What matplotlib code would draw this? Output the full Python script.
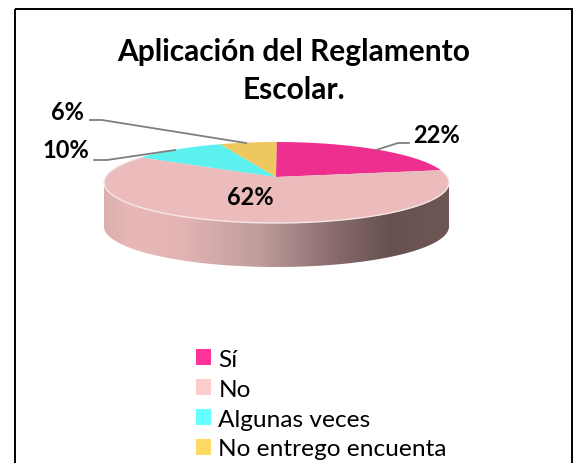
#!/usr/bin/env python
"""Aplicacion del Reglamento Escolar: fake 3D pie, drawn in pixel coordinates."""
import numpy as np

import matplotlib
matplotlib.use("Agg")
import matplotlib.pyplot as plt  # noqa: E402
from matplotlib.colors import LinearSegmentedColormap  # noqa: E402
from matplotlib.patches import Patch, Polygon, Rectangle  # noqa: E402

TITLE = "Aplicación del Reglamento\nEscolar."
CATEGORIES = ["Sí", "No", "Algunas veces", "No entrego encuenta"]
VALUES = [22, 62, 10, 6]
TOP_COLORS = ["#ee2f8f", "#ecbcbc", "#5cf0ee", "#eec85e"]
LEGEND_COLORS = ["#ff3399", "#ffcccc", "#66ffff", "#ffd966"]

# pie geometry, in pixels
CX, CY, RX, RY = 276.5, 183.5, 172.5, 40.5
APEX = (276, 178)
DEPTH = 44

plt.rcParams["font.family"] = ["Lato", "DejaVu Sans"]


def rim(theta):
    """Rim point for angle theta (radians clockwise from top), with perspective warp."""
    phi = theta - np.radians(7) * np.sin(theta)
    return CX + RX * np.sin(phi), CY - RY * np.cos(phi)


fig = plt.figure(figsize=(5.73, 4.64), dpi=100)
ax = fig.add_axes([0, 0, 1, 1])
ax.set_xlim(0, 573)
ax.set_ylim(464, 0)
ax.axis("off")

# chart frame
ax.add_patch(Rectangle((15, 10), 557, 470, fill=False, ec="black", lw=1.4, clip_on=False))

# side wall with horizontal gradient
t = np.linspace(np.pi / 2, 3 * np.pi / 2, 200)
x_low = CX + RX * np.sin(t)
y_low = CY - RY * np.cos(t)
side_pts = np.vstack([np.c_[x_low, y_low], np.c_[x_low[::-1], y_low[::-1] + DEPTH]])
side = Polygon(side_pts, closed=True, fc="none", ec="none")
ax.add_patch(side)
side_cmap = LinearSegmentedColormap.from_list(
    "side",
    [(0.0, "#dcaeae"), (0.08, "#e8b8b8"), (0.22, "#e4b4b4"), (0.45, "#c09c9c"),
     (0.68, "#86696a"), (0.83, "#675150"), (1.0, "#6e5654")],
)
img = ax.imshow(np.linspace(0, 1, 256)[None, :], extent=[CX - RX, CX + RX, 280, 140],
                cmap=side_cmap, aspect="auto", zorder=1)
img.set_clip_path(side)
ax.set_xlim(0, 573)
ax.set_ylim(464, 0)

# top face slices, clockwise from 12 o'clock
edges = np.radians(np.r_[0, np.cumsum(VALUES)] * 3.6)
for i in range(len(VALUES)):
    th = np.linspace(edges[i], edges[i + 1], 120)
    rx, ry = rim(th)
    pts = np.vstack([APEX, np.c_[rx, ry]])
    ax.add_patch(Polygon(pts, closed=True, fc=TOP_COLORS[i], ec="none", zorder=2))
# light rim along the front edge
th = np.linspace(edges[0] + 1.4, edges[2], 200)
ax.plot(*rim(th), color="#f6e6e6", lw=1.0, zorder=3)

# leader lines
LINE_X = [[376, 398, 409], [94, 107, 175], [90, 102, 246]]
LINE_Y = [[151, 144, 144], [161, 161, 151], [121, 121, 144]]
for lx, ly in zip(LINE_X, LINE_Y):
    ax.plot(lx, ly, color="#7f7f7f", lw=1.3, zorder=4)

# value labels
LABEL_X = [436, 250, 66, 67]
LABEL_Y = [136, 198, 151, 113]
for v, lx, ly in zip(VALUES, LABEL_X, LABEL_Y):
    ax.text(lx, ly, f"{v}%", fontsize=17, fontweight="bold", ha="center", va="center", zorder=5)

ax.text(293.5, 71, TITLE, fontsize=21.5, fontweight="bold", ha="center", va="center",
        linespacing=1.44)

handles = [Patch(fc=c, ec="none", label=n) for c, n in zip(LEGEND_COLORS, CATEGORIES)]
ax.legend(handles=handles, loc="upper left", bbox_to_anchor=(196 / 573, 1 - 350 / 464),
          frameon=False, fontsize=17.6, handlelength=0.62, handleheight=0.62,
          handletextpad=0.3, labelspacing=0.36, borderaxespad=0, borderpad=0)

fig.savefig("out.png", dpi=100)
